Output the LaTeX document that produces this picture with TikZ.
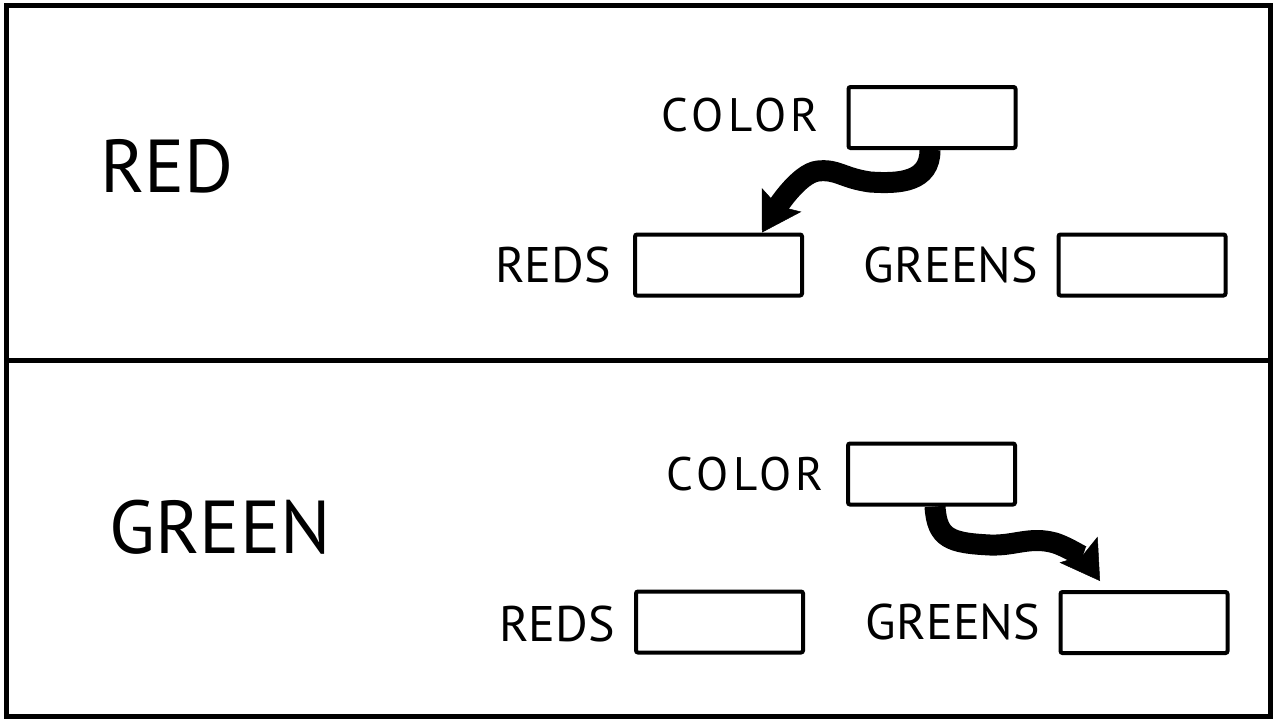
\documentclass[tikz,border=0pt]{standalone}
\usepackage{fontspec}
\setmainfont{PT Sans}
\newfontfamily\spacedfont{PT Sans}[LetterSpace=10]
\usetikzlibrary{arrows.meta}
\tikzset{
  panel/.style={draw, line width=5pt},
  slot/.style={draw, line width=4pt, rounded corners=2pt, minimum width=167pt, minimum height=61pt, inner sep=0pt},
  lbl/.style={inner sep=0pt, font=\fontsize{50}{54}\selectfont},
  collbl/.style={inner sep=0pt, font=\spacedfont\fontsize{47}{50}\selectfont},
  biglbl/.style={inner sep=0pt, font=\fontsize{75}{80}\selectfont},
  flow/.style={line width=21pt, -{Stealth[length=38pt,width=46pt,inset=7pt,line width=0.5pt]}},
}
\begin{document}
\begin{tikzpicture}[x=1pt,y=-1pt]
\useasboundingbox (0,0) rectangle (1279,725);
% panels
\draw[panel] (6,6) rectangle (1270,360);
\draw[panel] (6,360) rectangle (1270,716);
% top panel
\node[biglbl] (red) at (167,166) {RED};
\node[collbl] (color1) at (740,115) {COLOR};
\node[slot] (c1) at (932,117.5) {};
\node[lbl] (redsl1) at (553,265) {REDS};
\node[slot] (r1) at (718.5,265) {};
\node[lbl] (greensl1) at (951,265) {GREENS};
\node[slot] (g1) at (1142,265) {};
\draw[flow] ([xshift=-2pt]c1.south) .. controls +(0,32) and +(30,2) .. (870,182)
  .. controls +(-28,-4) and +(20,-2) .. (818,171)
  .. controls +(-20,2) and +(12,-20) .. ([xshift=43.5pt]r1.north);
% bottom panel
\node[biglbl] (green) at (220,527) {GREEN};
\node[collbl] (color2) at (745,474) {COLOR};
\node[slot] (c2) at (931.5,474) {};
\node[lbl] (redsl2) at (557,624) {REDS};
\node[slot] (r2) at (719.5,622) {};
\node[lbl] (greensl2) at (953,622) {GREENS};
\node[slot] (g2) at (1144,622.5) {};
\draw[flow] ([xshift=3.5pt]c2.south) .. controls +(2,32) and +(-40,-2) .. (990,545)
  .. controls +(25,1) and +(-25,-7) .. (1055,543)
  .. controls +(15,5) and +(-15,-22) .. ([xshift=-44pt,yshift=9pt]g2.north);
\end{tikzpicture}
\end{document}
